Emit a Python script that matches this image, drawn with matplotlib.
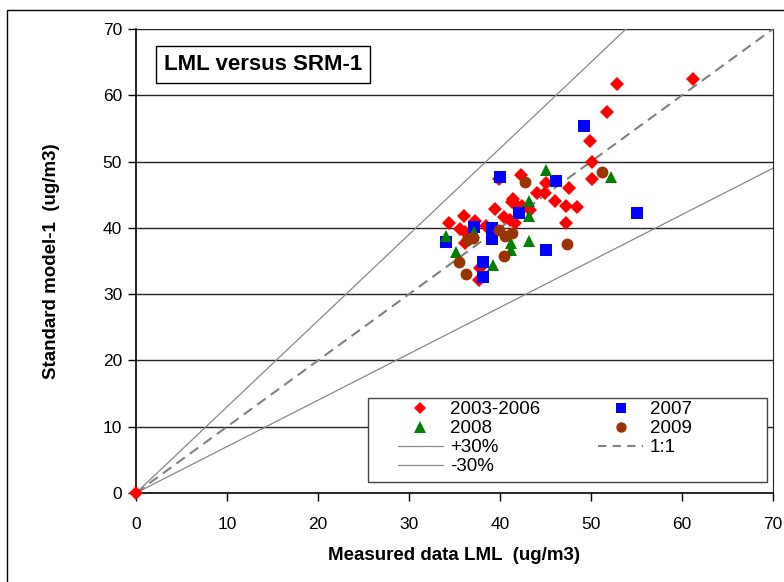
import matplotlib
matplotlib.use("Agg")
from matplotlib import pyplot as plt
from matplotlib.lines import Line2D
from matplotlib.patches import Rectangle

plt.rcParams['font.family'] = ['Liberation Sans', 'DejaVu Sans']

# measured (x) vs modelled (y), ug/m3
x_0306 = [0, 52.9, 61.2, 51.8, 49.9, 50.1, 50.1, 47.6, 42.3, 39.9, 45.1, 44.1,
          44.9, 46.0, 47.3, 48.5, 47.2, 41.3, 41.4, 41.8, 42.4, 43.3, 40.4, 41.1,
          41.6, 39.5, 34.4, 36.0, 37.3, 38.5, 35.6, 36.2, 36.2, 37.8, 37.7]
y_0306 = [0, 61.7, 62.4, 57.5, 53.1, 49.9, 47.4, 46.0, 47.9, 47.4, 46.7, 45.3,
          45.3, 44.0, 43.3, 43.1, 40.7, 43.9, 44.3, 43.4, 43.3, 42.7, 41.6, 41.2,
          40.8, 42.8, 40.8, 41.8, 41.0, 40.3, 39.8, 39.3, 37.7, 33.9, 32.1]

x_2007 = [49.2, 55.1, 40.0, 46.1, 42.1, 37.1, 39.1, 39.1, 34.1, 45.1, 38.1, 38.1]
y_2007 = [55.3, 42.3, 47.6, 47.1, 42.2, 40.1, 40.0, 38.3, 37.9, 36.7, 34.9, 32.6]

x_2008 = [52.2, 45.1, 43.2, 43.2, 37.1, 34.1, 41.2, 41.2, 43.2, 35.2, 39.2]
y_2008 = [47.6, 48.7, 44.1, 41.8, 39.3, 38.7, 37.7, 36.6, 38.0, 36.4, 34.4]

x_2009 = [51.2, 42.7, 39.9, 40.6, 41.3, 36.4, 37.0, 40.4, 47.4, 35.5, 36.3]
y_2009 = [48.4, 46.9, 39.7, 38.7, 39.2, 38.1, 38.5, 35.8, 37.6, 34.9, 33.0]

line_x = [0, 70]
ticks = [0, 10, 20, 30, 40, 50, 60, 70]

fig = plt.figure(figsize=(7.84, 5.82), dpi=100)
fig.patches.append(Rectangle((7 / 784, -0.1), 1.2, 1 - 10 / 582 + 0.1,
                             transform=fig.transFigure, fill=False,
                             edgecolor="black", linewidth=1.0))
ax = fig.add_axes([136 / 784, 1 - 493 / 582, (773 - 136) / 784, (493 - 29) / 582])

for t in ticks[1:]:
    ax.axhline(t, color="#222222", linewidth=1.0, zorder=1)

ax.plot(line_x, [1.3 * v for v in line_x], color="#888888", linewidth=0.9, zorder=2)
ax.plot(line_x, [0.7 * v for v in line_x], color="#888888", linewidth=0.9, zorder=2)
ax.plot(line_x, line_x, color="#808080", linewidth=1.5, linestyle=(0, (5, 3)), zorder=2)

ax.plot(x_0306, y_0306, "D", color="#FF0000", markersize=7.3, markeredgewidth=0,
        linestyle="none", zorder=3, clip_on=False)
ax.plot(x_2007, y_2007, "s", color="#0000FF", markersize=8, markeredgewidth=0,
        linestyle="none", zorder=4)
ax.plot(x_2008, y_2008, "^", color="#008000", markersize=9, markeredgewidth=0,
        linestyle="none", zorder=5)
ax.plot(x_2009, y_2009, "o", color="#993300", markersize=8.5, markeredgewidth=0,
        linestyle="none", zorder=6)

ax.set_xlim(0, 70)
ax.set_ylim(0, 70)
ax.set_xticks(ticks)
ax.set_yticks(ticks)
ax.tick_params(direction="out", length=6, width=1, labelsize=12.5, pad=4)
ax.tick_params(axis="x", pad=11)
ax.spines["top"].set_visible(False)
ax.spines["right"].set_color("#222222")
ax.spines["left"].set_linewidth(1.2)
ax.spines["bottom"].set_linewidth(1.2)

ax.set_xlabel("Measured data LML  (ug/m3)", fontsize=13.5, fontweight="bold", labelpad=11)
ax.set_ylabel("Standard model-1  (ug/m3)", fontsize=13.5, fontweight="bold", labelpad=31)

ax.text(0.044, 0.9235, "LML versus SRM-1", transform=ax.transAxes, fontsize=16,
        fontweight="bold", va="center", ha="left",
        bbox=dict(boxstyle="square,pad=0.36", facecolor="white", edgecolor="black", linewidth=1))

# legend frame drawn separately so the box size matches the original
ax.add_patch(Rectangle((0.364, 0.0237), 0.6264, 0.181, transform=ax.transAxes,
                       facecolor="white", edgecolor="#444444", linewidth=1.0, zorder=9))

handles = [
    Line2D([], [], marker="D", color="#FF0000", linestyle="none", markersize=6, markeredgewidth=0),
    Line2D([], [], marker="^", color="#008000", linestyle="none", markersize=8, markeredgewidth=0),
    Line2D([], [], color="#888888", linewidth=0.9),
    Line2D([], [], color="#888888", linewidth=0.9),
    Line2D([], [], marker="s", color="#0000FF", linestyle="none", markersize=6.5, markeredgewidth=0),
    Line2D([], [], marker="o", color="#993300", linestyle="none", markersize=7.5, markeredgewidth=0),
    Line2D([], [], color="#808080", linewidth=1.5, linestyle=(0, (4, 3))),
]
labels = ["2003-2006", "2008", "+30%", "-30%", "2007", "2009", "1:1"]
leg = ax.legend(handles, labels, ncol=2, loc="upper left", bbox_to_anchor=(0.411, 0.198),
                fontsize=13.5, frameon=False, borderpad=0, labelspacing=0.1,
                handlelength=2.4, handletextpad=0.37, columnspacing=3.1, borderaxespad=0)
leg.set_zorder(10)

fig.savefig("out.png", dpi=100)
